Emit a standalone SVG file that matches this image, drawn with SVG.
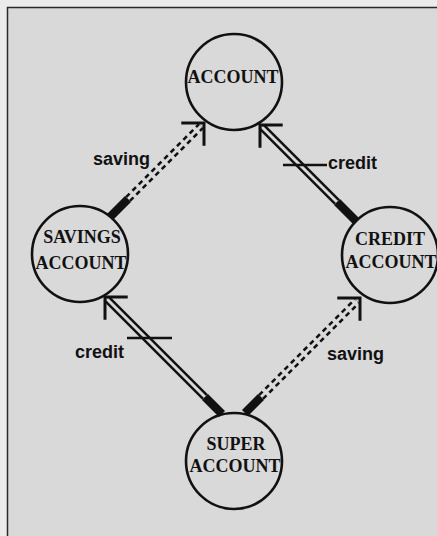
<svg xmlns="http://www.w3.org/2000/svg" width="437" height="536" viewBox="0 0 437 536">
  <style>
    .node { fill: none; stroke: #111; stroke-width: 2.6; }
    .name { font-family: "Liberation Serif", "Times New Roman", serif; font-weight: bold; font-size: 18px; fill: #111; text-anchor: middle; }
    .label { font-family: "Liberation Sans", Arial, sans-serif; font-weight: bold; font-size: 18px; fill: #111; }
    .rail { fill: none; stroke: #111; stroke-width: 8; }
    .rail-dash { fill: none; stroke: #111; stroke-width: 8; stroke-dasharray: 5 4; }
    .gap { fill: none; stroke: #d9d9d9; stroke-width: 3; }
    .stub { fill: none; stroke: #111; stroke-width: 8.5; }
    .tick { fill: none; stroke: #111; stroke-width: 2.5; }
    .head { fill: none; stroke: none; marker-end: url(#open); }
  </style>
  <defs>
    <marker id="open" markerUnits="userSpaceOnUse" markerWidth="40" markerHeight="40" refX="0" refY="0" viewBox="-20 -20 40 40" orient="auto" overflow="visible">
      <path d="M-15,-15 L0,0 L-15,15" fill="none" stroke="#111" stroke-width="3" stroke-linecap="square"/>
    </marker>
    <path id="bodyA" d="M128,199 L201,126"/>
    <path id="bodyB" d="M337,202 L262,127"/>
    <path id="bodyC" d="M205,397 L107,299"/>
    <path id="bodyD" d="M261,397 L357,301"/>
  </defs>

  <!-- page and frame -->
  <rect x="0" y="0" width="437" height="536" fill="#ebebeb"/>
  <rect x="7.5" y="7.5" width="440" height="540" fill="#d9d9d9" stroke="#2a2a2a" stroke-width="1.5"/>

  <g id="connectors">
    <!-- savings account inherits account (saving) -->
    <g id="edge-saving-top">
      <use href="#bodyA" class="rail-dash"/>
      <use href="#bodyA" class="gap"/>
      <path class="stub" d="M110,217 L128,199"/>
      <path class="head" d="M190,137 L204,123"/>
      <text class="label" x="93" y="165">saving</text>
    </g>
    <!-- credit account inherits account (credit) -->
    <g id="edge-credit-top">
      <use href="#bodyB" class="rail"/>
      <use href="#bodyB" class="gap"/>
      <path class="stub" d="M356,221 L337,202"/>
      <path class="head" d="M275,140 L260,125"/>
      <path class="tick" d="M283,165 L327,165"/>
      <text class="label" x="328" y="169">credit</text>
    </g>
    <!-- super account inherits savings account (credit) -->
    <g id="edge-credit-bottom">
      <use href="#bodyC" class="rail"/>
      <use href="#bodyC" class="gap"/>
      <path class="stub" d="M222,414 L205,397"/>
      <path class="head" d="M120,312 L105,297"/>
      <path class="tick" d="M127,338 L172,338"/>
      <text class="label" x="75" y="358">credit</text>
    </g>
    <!-- super account inherits credit account (saving) -->
    <g id="edge-saving-bottom">
      <use href="#bodyD" class="rail-dash"/>
      <use href="#bodyD" class="gap"/>
      <path class="stub" d="M245,413 L261,397"/>
      <path class="head" d="M345,313 L360,298"/>
      <text class="label" x="327" y="360">saving</text>
    </g>
  </g>

  <g id="account">
    <circle class="node" cx="234" cy="82" r="48"/>
    <text class="name" x="233" y="83">ACCOUNT</text>
  </g>
  <g id="savings-account">
    <circle class="node" cx="80" cy="254" r="48"/>
    <text class="name" x="82" y="243">SAVINGS</text>
    <text class="name" x="81" y="269">ACCOUNT</text>
  </g>
  <g id="credit-account">
    <circle class="node" cx="390" cy="255" r="48"/>
    <text class="name" x="390" y="245">CREDIT</text>
    <text class="name" x="391" y="268">ACCOUNT</text>
  </g>
  <g id="super-account">
    <circle class="node" cx="234" cy="461" r="48"/>
    <text class="name" x="236" y="450">SUPER</text>
    <text class="name" x="235" y="472">ACCOUNT</text>
  </g>
</svg>
